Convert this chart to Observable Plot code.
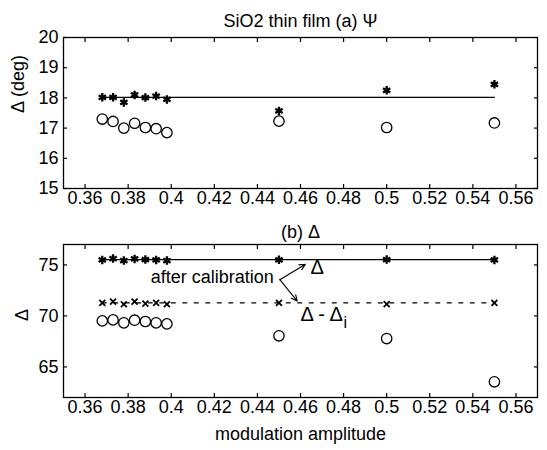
<!DOCTYPE html>
<html><head><meta charset="utf-8">
<script src="https://cdn.jsdelivr.net/npm/d3@7"></script>
<script src="https://cdn.jsdelivr.net/npm/@observablehq/plot@0.6"></script>
<style>body{margin:0;background:#fff} #c{width:547px;} #c svg{display:block}</style>
</head><body><div id="c"></div>
<script>
// ---- data ----
const amplitude = [0.368, 0.373, 0.378, 0.383, 0.388, 0.393, 0.398, 0.45, 0.50, 0.55];
// (a) Psi
const psiCalibrated = [18.02, 18.02, 17.85, 18.10, 18.01, 18.06, 17.95, 17.57, 18.25, 18.45];
const psiRaw        = [17.30, 17.22, 17.00, 17.16, 17.02, 16.98, 16.85, 17.23, 17.02, 17.17];
const psiReference  = 18.02;
// (b) Delta
const deltaCalibrated  = [75.49, 75.62, 75.42, 75.59, 75.52, 75.49, 75.42, 75.50, 75.52, 75.49];
const deltaMinusDi     = [71.27, 71.40, 71.14, 71.40, 71.20, 71.27, 71.14, 71.28, 71.16, 71.28];
const deltaRaw         = [69.51, 69.61, 69.32, 69.58, 69.45, 69.32, 69.22, 68.05, 67.78, 63.54];
const deltaReference   = 75.52;
const deltaIReference  = 71.28;
const referenceX = [0.368, 0.55];
// ticks
const xTicks = [0.36, 0.38, 0.40, 0.42, 0.44, 0.46, 0.48, 0.50, 0.52, 0.54, 0.56];
const psiTicks = [15, 16, 17, 18, 19, 20];
const deltaTicks = [65, 70, 75];
// annotation
const arrowX1 = [0.4504, 0.4504];
const arrowY1 = [73.55, 73.55];
const arrowX2 = [0.4623, 0.4585];
const arrowY2 = [75.07, 71.45];

const FONT = "'Liberation Sans', Arial, Helvetica, sans-serif";
const fmt = d => String(+d.toFixed(2));

const psiTable = amplitude.map((x, i) => ({x, cal: psiCalibrated[i], raw: psiRaw[i]}));
const deltaTable = amplitude.map((x, i) => ({x, cal: deltaCalibrated[i], di: deltaMinusDi[i], raw: deltaRaw[i]}));
const arrows = arrowX1.map((x1, i) => ({x1, y1: arrowY1[i], x2: arrowX2[i], y2: arrowY2[i]}));

function panel({yDomain, yTicks, height, mt, mb, marks}) {
  return Plot.plot({
    width: 547, height,
    marginLeft: 63, marginRight: 10, marginTop: mt, marginBottom: mb,
    x: {domain: [0.35, 0.57]},
    y: {domain: yDomain},
    style: {fontFamily: FONT, fontSize: "18px", color: "black", background: "white", overflow: "visible"},
    marks: [
      Plot.axisX(xTicks, {anchor: "bottom", tickSize: -4, tickPadding: 7, tickFormat: fmt, label: null, fontSize: 18, strokeWidth: 1.2}),
      Plot.axisX(xTicks, {anchor: "top", tickSize: -4, tickFormat: () => "", label: null, strokeWidth: 1.2}),
      Plot.axisY(yTicks, {anchor: "left", tickSize: -4, tickPadding: 9, label: null, fontSize: 18, strokeWidth: 1.2}),
      Plot.axisY(yTicks, {anchor: "right", tickSize: -4, tickFormat: () => "", label: null, strokeWidth: 1.2}),
      Plot.frame({stroke: "black", strokeWidth: 1.3}),
      ...marks
    ]
  });
}

const topPanel = panel({
  yDomain: [15, 20], yTicks: psiTicks, height: 215, mt: 37, mb: 27,
  marks: [
    Plot.line(referenceX, {x: d => d, y: () => psiReference, stroke: "black", strokeWidth: 1.3}),
    Plot.dot(psiTable, {x: "x", y: "cal", symbol: "asterisk", r: 4, stroke: "black", strokeWidth: 2.3}),
    Plot.dot(psiTable, {x: "x", y: "raw", r: 5.2, stroke: "black", strokeWidth: 1.3, fill: "none"}),
    Plot.text(["SiO2 thin film (a) \u03A8"], {frameAnchor: "top", dy: -23, fontSize: 18}),
    Plot.text(["\u0394 (deg)"], {frameAnchor: "left", rotate: -90, dx: -45, fontSize: 18})
  ]
});

const bottomPanel = panel({
  yDomain: [62, 77], yTicks: deltaTicks, height: 235, mt: 29, mb: 53,
  marks: [
    Plot.line(referenceX, {x: d => d, y: () => deltaReference, stroke: "black", strokeWidth: 1.3}),
    Plot.line(referenceX, {x: d => d, y: () => deltaIReference, stroke: "black", strokeWidth: 1.3, strokeDasharray: "4,7.5"}),
    Plot.dot(deltaTable, {x: "x", y: "cal", symbol: "asterisk", r: 4, stroke: "black", strokeWidth: 2.3}),
    Plot.dot(deltaTable, {x: "x", y: "di", symbol: "times", r: 2.8, stroke: "black", strokeWidth: 1.8}),
    Plot.dot(deltaTable, {x: "x", y: "raw", r: 5.2, stroke: "black", strokeWidth: 1.3, fill: "none"}),
    Plot.arrow(arrows, {x1: "x1", y1: "y1", x2: "x2", y2: "y2", stroke: "black", strokeWidth: 1.1, headLength: 9, headAngle: 50}),
    Plot.text(["after calibration"], {x: () => 0.4476, y: () => 73.75, textAnchor: "end", fontSize: 18}),
    Plot.text(["\u0394"], {x: () => 0.4677, y: () => 74.7, fontSize: 20}),
    Plot.text(["\u0394 - \u0394"], {x: () => 0.4600, y: () => 70.16, textAnchor: "start", fontSize: 20}),
    Plot.text(["i"], {x: () => 0.4800, y: () => 69.3, textAnchor: "start", fontSize: 16}),
    Plot.text(["(b) \u0394"], {frameAnchor: "top", dy: -19, fontSize: 18}),
    Plot.text(["\u0394"], {frameAnchor: "left", rotate: -90, dx: -41, fontSize: 18}),
    Plot.text(["modulation amplitude"], {frameAnchor: "bottom", dy: 42, fontSize: 18})
  ]
});

document.getElementById("c").append(topPanel, bottomPanel);
</script>
</body></html>
